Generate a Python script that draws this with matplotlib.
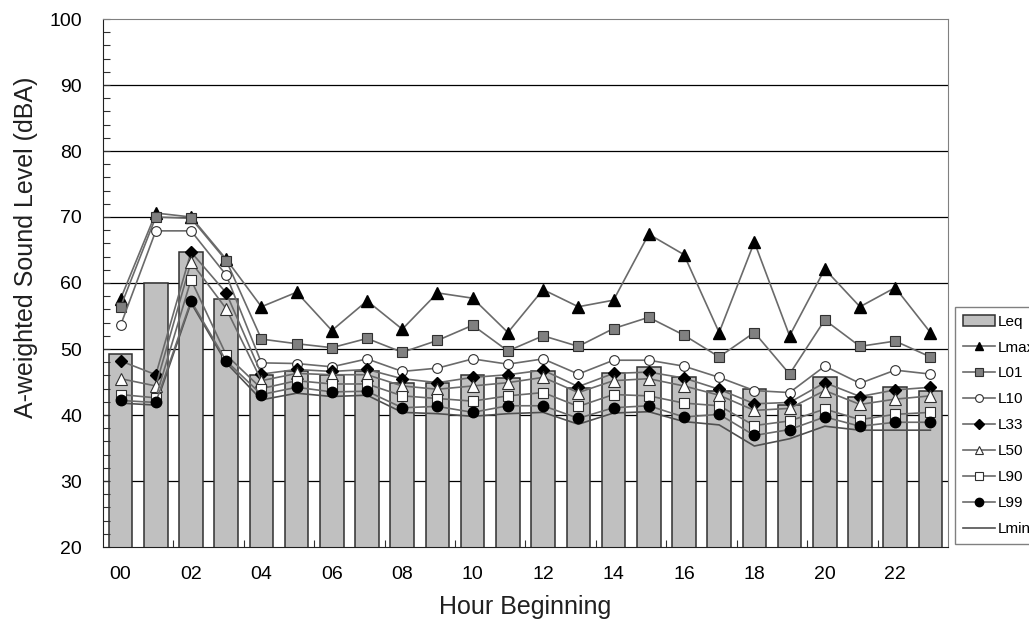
import matplotlib
matplotlib.use("Agg")
import matplotlib.pyplot as plt
import numpy as np

plt.rcParams['font.family'] = ['Liberation Sans', 'DejaVu Sans']

hours = list(range(24))
hour_labels = ["%02d" % h for h in range(0, 24, 2)]

leq  = [49.2, 60.0, 64.7, 57.5, 46.0, 46.6, 46.0, 46.7, 44.9, 44.9, 46.0, 45.6,
        46.6, 44.1, 46.3, 47.2, 45.7, 43.7, 43.9, 41.5, 45.7, 42.8, 44.2, 43.7]
lmax = [57.6, 70.6, 70.0, 63.6, 56.4, 58.6, 52.8, 57.3, 53.0, 58.5, 57.7, 52.5,
        59.0, 56.4, 57.4, 67.4, 64.3, 52.5, 66.2, 52.0, 62.1, 56.4, 59.3, 52.5]
l01  = [56.4, 70.0, 69.8, 63.4, 51.5, 50.8, 50.2, 51.6, 49.5, 51.3, 53.6, 49.7,
        52.0, 50.4, 53.1, 54.8, 52.1, 48.8, 52.5, 46.2, 54.4, 50.4, 51.2, 48.8]
l10  = [53.6, 67.9, 67.9, 61.2, 47.9, 47.8, 47.3, 48.5, 46.6, 47.1, 48.5, 47.7,
        48.5, 46.2, 48.3, 48.3, 47.4, 45.7, 43.7, 43.4, 47.4, 44.8, 46.8, 46.2]
l33  = [48.2, 46.1, 64.7, 58.5, 46.2, 46.9, 46.6, 46.9, 45.5, 44.9, 45.7, 46.1,
        46.8, 44.3, 46.3, 46.5, 45.6, 43.9, 41.7, 41.9, 44.9, 42.8, 43.8, 44.2]
l50  = [45.5, 44.4, 63.2, 56.1, 45.2, 46.3, 46.1, 46.1, 44.4, 43.9, 44.4, 44.9,
        45.7, 43.4, 45.2, 45.5, 44.4, 43.0, 40.7, 41.0, 43.7, 41.6, 42.4, 42.9]
l90  = [43.1, 42.6, 60.5, 49.1, 44.0, 45.2, 44.7, 44.7, 42.9, 42.5, 42.1, 42.9,
        43.4, 41.3, 43.1, 42.9, 41.8, 41.4, 38.4, 39.1, 40.9, 39.3, 40.1, 40.4]
l99  = [42.2, 41.9, 57.3, 48.2, 43.1, 44.2, 43.5, 43.6, 41.1, 41.3, 40.4, 41.4,
        41.4, 39.5, 41.1, 41.4, 39.7, 40.1, 36.9, 37.8, 39.7, 38.3, 38.9, 38.9]
lmin = [41.8, 41.5, 57.0, 47.9, 42.3, 43.3, 42.8, 43.0, 40.4, 40.2, 39.8, 40.2,
        40.4, 38.6, 40.3, 40.5, 39.0, 38.5, 35.3, 36.4, 38.3, 37.7, 37.7, 37.7]

fig = plt.figure(figsize=(10.29, 6.31), dpi=100)
ax = fig.add_axes([103/1029, 1-547/631, (948-103)/1029, (547-19)/631])

ax.set_ylim(20, 100)
ax.set_xlim(-0.5, 23.5)

# gridlines
for g in range(30, 100, 10):
    ax.axhline(g, color='black', lw=0.9, zorder=0)

bars = ax.bar(hours, leq, width=0.67, bottom=0, color='#c0c0c0', edgecolor='#303030',
              linewidth=1.1, zorder=1, label='Leq')

lc = '#6a6a6a'
lw = 1.2
ax.plot(hours, lmax, color=lc, lw=lw, marker='^', ms=8, mfc='black', mec='black', zorder=3, label='Lmax')
ax.plot(hours, l01, color=lc, lw=lw, marker='s', ms=7, mfc='#808080', mec='#303030', mew=0.8, zorder=3, label='L01')
ax.plot(hours, l10, color=lc, lw=lw, marker='o', ms=7, mfc='white', mec='#303030', mew=0.8, zorder=3, label='L10')
ax.plot(hours, l33, color=lc, lw=lw, marker='D', ms=6, mfc='black', mec='black', zorder=3, label='L33')
ax.plot(hours, l50, color=lc, lw=lw, marker='^', ms=8, mfc='white', mec='#303030', mew=0.8, zorder=3, label='L50')
ax.plot(hours, l90, color=lc, lw=lw, marker='s', ms=7, mfc='white', mec='#303030', mew=0.8, zorder=3, label='L90')
ax.plot(hours, l99, color=lc, lw=lw, marker='o', ms=7.5, mfc='black', mec='black', zorder=3, label='L99')
ax.plot(hours, lmin, color='#505050', lw=lw, zorder=2, label='Lmin')

# ticks
ax.set_yticks(range(20, 101, 10))
ax.set_yticks(range(20, 101, 2), minor=True)
ax.tick_params(axis='y', which='both', direction='in', length=5, width=0.8,
               labelsize=14, pad=15, color='#303030')
ax.set_xticks(range(0, 24, 2))
ax.set_xticklabels(hour_labels)
ax.set_xticks(np.arange(1.5, 23.0, 2), minor=True)
ax.tick_params(axis='x', which='major', length=0, labelsize=14, pad=14)
ax.tick_params(axis='x', which='minor', direction='in', length=5, width=0.8, color='#303030')

for s in ['top', 'right']:
    ax.spines[s].set_color('#808080')
for s in ['left', 'bottom']:
    ax.spines[s].set_color('#202020')

ax.set_ylabel('A-weighted Sound Level (dBA)', fontsize=18, labelpad=8, color='#202020')
ax.yaxis.label.set_y(0.568)
ax.set_xlabel('Hour Beginning', fontsize=18, labelpad=8, color='#202020')

handles, labels = ax.get_legend_handles_labels()
order = [labels.index(n) for n in ['Leq', 'Lmax', 'L01', 'L10', 'L33', 'L50', 'L90', 'L99', 'Lmin']]
leg = fig.legend([handles[i] for i in order], [labels[i] for i in order],
                 loc='upper left', bbox_to_anchor=(955/1029, 1-307/631),
                 frameon=True, fancybox=False, fontsize=11, labelspacing=0.78,
                 handlelength=2.1, handletextpad=0.2, borderpad=0.5,
                 borderaxespad=0, markerscale=0.8)
leg.get_frame().set_edgecolor('#606060')
leg.get_frame().set_linewidth(1.0)

fig.savefig('out.png', dpi=100)
